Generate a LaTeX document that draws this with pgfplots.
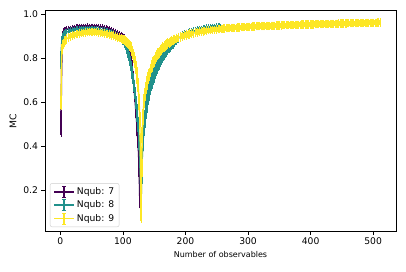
\documentclass[border=0pt]{standalone}
\usepackage{pgfplots}
\pgfplotsset{compat=1.18}
\usepackage{pgfplotstable}
\usepackage{fontspec}
\setmainfont{DejaVu Sans}
\definecolor{cP}{RGB}{68,1,84}
\definecolor{cT}{HTML}{21918C}
\definecolor{cY}{HTML}{FDE725}

\pgfplotstableread[row sep=\\]{
x y e\\
1 0.505 0.055\\ 2 0.730 0.040\\ 3 0.870 0.020\\ 4 0.905 0.012\\ 5 0.918 0.010\\
6 0.922 0.009\\ 7 0.925 0.008\\ 8 0.927 0.008\\ 9 0.929 0.007\\ 10 0.930 0.007\\
13 0.933 0.007\\ 16 0.935 0.006\\ 19 0.937 0.006\\ 22 0.939 0.006\\ 25 0.941 0.006\\
28 0.942 0.006\\ 31 0.943 0.006\\ 34 0.944 0.006\\ 37 0.945 0.005\\ 40 0.945 0.005\\
43 0.946 0.005\\ 46 0.945 0.005\\ 49 0.945 0.005\\ 52 0.945 0.005\\ 55 0.944 0.005\\
58 0.944 0.005\\ 61 0.943 0.005\\ 64 0.942 0.005\\ 67 0.941 0.005\\ 70 0.939 0.006\\
73 0.937 0.006\\ 76 0.935 0.006\\ 79 0.932 0.006\\ 82 0.928 0.006\\ 85 0.924 0.007\\
88 0.920 0.007\\ 91 0.915 0.007\\ 94 0.910 0.008\\ 97 0.905 0.008\\ 100 0.899 0.008\\
101 0.896 0.008\\ 102 0.893 0.009\\ 103 0.889 0.009\\ 104 0.884 0.009\\ 105 0.878 0.010\\
106 0.872 0.010\\ 107 0.865 0.010\\ 108 0.857 0.011\\ 109 0.848 0.011\\ 110 0.838 0.012\\
111 0.826 0.012\\ 112 0.812 0.013\\ 113 0.795 0.013\\ 114 0.775 0.014\\ 115 0.752 0.015\\
116 0.726 0.016\\ 117 0.695 0.017\\ 118 0.660 0.018\\ 119 0.625 0.019\\ 120 0.588 0.020\\
121 0.550 0.022\\ 122 0.512 0.024\\ 123 0.470 0.026\\ 124 0.425 0.028\\ 125 0.370 0.030\\
126 0.290 0.032\\ 127 0.155 0.030\\
}\tabP

\pgfplotstableread[row sep=\\]{
x y e\\
1 0.790 0.040\\ 2 0.865 0.020\\ 3 0.885 0.015\\ 4 0.896 0.012\\ 5 0.903 0.011\\
6 0.908 0.010\\ 7 0.911 0.010\\ 8 0.914 0.009\\ 9 0.916 0.009\\ 10 0.918 0.009\\
13 0.921 0.008\\ 16 0.924 0.008\\ 19 0.926 0.008\\ 22 0.928 0.008\\ 25 0.929 0.008\\
28 0.930 0.008\\ 31 0.931 0.008\\ 34 0.932 0.008\\ 37 0.932 0.008\\ 40 0.933 0.008\\
43 0.933 0.008\\ 46 0.933 0.008\\ 49 0.932 0.008\\ 52 0.932 0.008\\ 55 0.931 0.008\\
58 0.930 0.008\\ 61 0.929 0.008\\ 64 0.928 0.008\\ 67 0.926 0.008\\ 70 0.924 0.008\\
73 0.922 0.008\\ 76 0.920 0.009\\ 79 0.917 0.009\\ 82 0.914 0.009\\ 85 0.910 0.009\\
88 0.906 0.010\\ 91 0.901 0.010\\ 94 0.896 0.010\\ 97 0.889 0.011\\ 100 0.880 0.012\\
101 0.876 0.012\\ 102 0.871 0.013\\ 103 0.866 0.013\\ 104 0.860 0.014\\ 105 0.853 0.015\\
106 0.845 0.016\\ 107 0.836 0.016\\ 108 0.826 0.017\\ 109 0.815 0.018\\ 110 0.803 0.018\\
111 0.790 0.019\\ 112 0.776 0.020\\ 113 0.761 0.020\\ 114 0.745 0.021\\ 115 0.728 0.022\\
116 0.710 0.022\\ 117 0.690 0.023\\ 118 0.668 0.024\\ 119 0.645 0.024\\ 120 0.620 0.025\\
121 0.594 0.026\\ 122 0.566 0.027\\ 123 0.536 0.028\\ 124 0.502 0.029\\ 125 0.462 0.030\\
126 0.412 0.031\\ 127 0.340 0.032\\ 128 0.235 0.030\\ 129 0.130 0.028\\ 130 0.260 0.030\\
131 0.350 0.032\\ 132 0.410 0.033\\ 133 0.455 0.034\\ 134 0.490 0.035\\ 135 0.520 0.036\\
136 0.545 0.037\\ 137 0.567 0.037\\ 138 0.588 0.038\\ 139 0.607 0.038\\ 140 0.624 0.038\\
142 0.652 0.039\\ 144 0.676 0.039\\ 146 0.697 0.039\\ 148 0.716 0.039\\ 150 0.733 0.038\\
152 0.749 0.038\\ 154 0.763 0.037\\ 156 0.776 0.036\\ 158 0.788 0.035\\ 160 0.799 0.034\\
162 0.809 0.033\\ 164 0.818 0.032\\ 166 0.827 0.031\\ 168 0.835 0.030\\ 170 0.842 0.029\\
172 0.849 0.027\\ 174 0.855 0.026\\ 176 0.861 0.025\\ 178 0.867 0.024\\ 180 0.872 0.022\\
183 0.879 0.020\\ 186 0.885 0.018\\ 189 0.891 0.017\\ 192 0.896 0.016\\ 195 0.901 0.015\\
198 0.905 0.014\\ 201 0.909 0.013\\ 204 0.913 0.012\\ 207 0.916 0.012\\ 210 0.919 0.011\\
213 0.922 0.011\\ 216 0.925 0.010\\ 219 0.927 0.010\\ 222 0.929 0.010\\ 225 0.931 0.009\\
228 0.933 0.009\\ 231 0.935 0.009\\ 234 0.937 0.009\\ 237 0.938 0.008\\ 240 0.940 0.008\\
243 0.941 0.008\\ 246 0.942 0.008\\ 249 0.943 0.008\\ 252 0.944 0.008\\ 255 0.945 0.008\\
}\tabT

\pgfplotstableread[row sep=\\]{
x y e\\
1 0.600 0.030\\ 2 0.800 0.030\\ 3 0.845 0.020\\ 4 0.858 0.018\\ 5 0.866 0.016\\
6 0.872 0.015\\ 7 0.877 0.015\\ 8 0.881 0.014\\ 9 0.884 0.014\\ 10 0.887 0.014\\
13 0.893 0.013\\ 16 0.898 0.013\\ 19 0.902 0.013\\ 22 0.905 0.013\\ 25 0.908 0.012\\
28 0.910 0.012\\ 31 0.912 0.012\\ 34 0.914 0.012\\ 37 0.915 0.012\\ 40 0.916 0.012\\
43 0.917 0.012\\ 46 0.918 0.012\\ 49 0.918 0.012\\ 52 0.918 0.012\\ 55 0.918 0.012\\
58 0.917 0.012\\ 61 0.916 0.012\\ 64 0.915 0.012\\ 67 0.914 0.012\\ 70 0.912 0.012\\
73 0.910 0.012\\ 76 0.908 0.012\\ 79 0.906 0.013\\ 82 0.904 0.013\\ 85 0.901 0.013\\
88 0.898 0.013\\ 91 0.895 0.013\\ 94 0.892 0.014\\ 97 0.889 0.014\\ 100 0.886 0.014\\
101 0.884 0.014\\ 102 0.882 0.015\\ 103 0.880 0.015\\ 104 0.878 0.015\\ 105 0.876 0.015\\
106 0.873 0.016\\ 107 0.870 0.016\\ 108 0.867 0.016\\ 109 0.864 0.017\\ 110 0.860 0.017\\
111 0.856 0.018\\ 112 0.851 0.018\\ 113 0.845 0.019\\ 114 0.838 0.019\\ 115 0.830 0.020\\
116 0.821 0.020\\ 117 0.811 0.021\\ 118 0.799 0.022\\ 119 0.786 0.023\\ 120 0.771 0.024\\
121 0.754 0.025\\ 122 0.734 0.026\\ 123 0.710 0.027\\ 124 0.681 0.028\\ 125 0.645 0.030\\
126 0.597 0.032\\ 127 0.520 0.035\\ 128 0.370 0.040\\ 129 0.100 0.040\\ 130 0.300 0.040\\
131 0.450 0.035\\ 132 0.530 0.032\\ 133 0.575 0.030\\ 134 0.607 0.028\\ 135 0.632 0.027\\
136 0.652 0.026\\ 137 0.668 0.025\\ 138 0.682 0.025\\ 139 0.695 0.024\\ 140 0.707 0.024\\
142 0.727 0.023\\ 144 0.745 0.023\\ 146 0.761 0.022\\ 148 0.775 0.022\\ 150 0.788 0.021\\
152 0.799 0.021\\ 154 0.809 0.020\\ 156 0.818 0.020\\ 158 0.826 0.019\\ 160 0.833 0.019\\
162 0.840 0.018\\ 164 0.846 0.018\\ 166 0.852 0.018\\ 168 0.857 0.017\\ 170 0.862 0.017\\
172 0.866 0.017\\ 174 0.870 0.016\\ 176 0.874 0.016\\ 178 0.877 0.016\\ 180 0.880 0.016\\
183 0.885 0.015\\ 186 0.889 0.015\\ 189 0.893 0.015\\ 192 0.896 0.015\\ 195 0.899 0.014\\
198 0.902 0.014\\ 201 0.905 0.014\\ 204 0.907 0.014\\ 207 0.909 0.014\\ 210 0.911 0.013\\
213 0.913 0.013\\ 216 0.915 0.013\\ 219 0.917 0.013\\ 222 0.919 0.013\\ 225 0.920 0.013\\
228 0.922 0.013\\ 231 0.923 0.013\\ 234 0.925 0.013\\ 237 0.926 0.012\\ 240 0.927 0.012\\
243 0.928 0.012\\ 246 0.929 0.012\\ 249 0.930 0.012\\ 252 0.931 0.012\\ 255 0.932 0.012\\
257 0.933 0.012\\ 259 0.933 0.012\\ 261 0.934 0.012\\ 263 0.934 0.012\\ 265 0.935 0.012\\
267 0.935 0.012\\ 269 0.936 0.012\\ 271 0.936 0.012\\ 273 0.937 0.012\\ 275 0.937 0.012\\
277 0.938 0.012\\ 279 0.938 0.012\\ 281 0.938 0.012\\ 283 0.939 0.012\\ 285 0.939 0.012\\
287 0.939 0.012\\ 289 0.940 0.012\\ 291 0.940 0.012\\ 293 0.940 0.012\\ 295 0.941 0.012\\
297 0.941 0.012\\ 299 0.941 0.012\\ 301 0.942 0.012\\ 303 0.942 0.012\\ 305 0.942 0.012\\
307 0.943 0.012\\ 309 0.943 0.012\\ 311 0.943 0.012\\ 313 0.944 0.012\\ 315 0.944 0.012\\
317 0.944 0.012\\ 319 0.944 0.012\\ 321 0.945 0.012\\ 323 0.945 0.012\\ 325 0.945 0.012\\
327 0.945 0.012\\ 329 0.946 0.012\\ 331 0.946 0.012\\ 333 0.946 0.012\\ 335 0.946 0.012\\
337 0.947 0.012\\ 339 0.947 0.012\\ 341 0.947 0.012\\ 343 0.947 0.012\\ 345 0.948 0.012\\
347 0.948 0.012\\ 349 0.948 0.012\\ 351 0.948 0.012\\ 353 0.948 0.012\\ 355 0.949 0.012\\
357 0.949 0.012\\ 359 0.949 0.012\\ 361 0.949 0.012\\ 363 0.949 0.012\\ 365 0.950 0.012\\
367 0.950 0.012\\ 369 0.950 0.012\\ 371 0.950 0.012\\ 373 0.950 0.012\\ 375 0.951 0.012\\
377 0.951 0.012\\ 379 0.951 0.012\\ 381 0.951 0.012\\ 383 0.951 0.012\\ 385 0.952 0.012\\
387 0.952 0.012\\ 389 0.952 0.012\\ 391 0.952 0.012\\ 393 0.952 0.012\\ 395 0.953 0.012\\
397 0.953 0.012\\ 399 0.953 0.012\\ 401 0.953 0.012\\ 403 0.953 0.012\\ 405 0.953 0.012\\
407 0.954 0.012\\ 409 0.954 0.012\\ 411 0.954 0.012\\ 413 0.954 0.012\\ 415 0.954 0.012\\
417 0.954 0.012\\ 419 0.955 0.012\\ 421 0.955 0.012\\ 423 0.955 0.012\\ 425 0.955 0.012\\
427 0.955 0.012\\ 429 0.955 0.012\\ 431 0.956 0.012\\ 433 0.956 0.012\\ 435 0.956 0.012\\
437 0.956 0.012\\ 439 0.956 0.012\\ 441 0.956 0.012\\ 443 0.956 0.012\\ 445 0.957 0.012\\
447 0.957 0.012\\ 449 0.957 0.012\\ 451 0.957 0.012\\ 453 0.957 0.012\\ 455 0.957 0.012\\
457 0.957 0.012\\ 459 0.958 0.012\\ 461 0.958 0.012\\ 463 0.958 0.012\\ 465 0.958 0.012\\
467 0.958 0.012\\ 469 0.958 0.012\\ 471 0.958 0.012\\ 473 0.958 0.012\\ 475 0.959 0.012\\
477 0.959 0.012\\ 479 0.959 0.012\\ 481 0.959 0.012\\ 483 0.959 0.012\\ 485 0.959 0.012\\
487 0.959 0.012\\ 489 0.959 0.012\\ 491 0.960 0.012\\ 493 0.960 0.012\\ 495 0.960 0.012\\
497 0.960 0.012\\ 499 0.960 0.012\\ 501 0.960 0.012\\ 503 0.960 0.012\\ 505 0.960 0.012\\
507 0.961 0.012\\ 509 0.961 0.012\\ 511 0.961 0.012\\
}\tabY

\newcommand\eblegdraw[1]{%
  \path[draw=#1, line width=1.8pt] (0pt,0pt) -- (20pt,0pt);
  \path[draw=#1, line width=1.2pt] (10pt,-5.5pt) -- (10pt,5.5pt);
  \path[draw=#1, line width=1.1pt] (8.4pt,-5.5pt) -- (11.6pt,-5.5pt);
  \path[draw=#1, line width=1.1pt] (8.4pt,5.5pt) -- (11.6pt,5.5pt);
}

\begin{document}
\begin{tikzpicture}
\useasboundingbox (-45pt,-40pt) rectangle (361pt,231pt);
\begin{axis}[
  at={(0pt,0pt)}, anchor=south west,
  scale only axis, width=351pt, height=220.3pt,
  xmin=-24.5, xmax=536.5, ymin=0.015, ymax=1.015,
  xtick={0,100,200,300,400,500}, ytick={0.2,0.4,0.6,0.8,1.0},
  yticklabel style={/pgf/number format/.cd, fixed, fixed zerofill, precision=1},
  /pgf/number format/assume math mode=true,
  tick align=outside, major tick length=3.5pt,
  xtick pos=bottom, ytick pos=left,
  tick style={black, line width=0.6pt},
  axis line style={line width=0.6pt},
  ticklabel style={font=\fontsize{9.2}{10}\selectfont},
  xlabel={Number of observables}, ylabel={MC},
  xlabel style={font=\fontsize{8}{9}\selectfont},
  ylabel style={font=\fontsize{9.2}{10}\selectfont},
  legend style={at={(0.014,0.018)}, anchor=south west, draw=black!20,
    rounded corners=2pt, fill=white, font=\fontsize{9.2}{10}\selectfont, row sep=1pt},
  legend cell align=left,
  error bars/y dir=both, error bars/y explicit,
  error bars/error bar style={line width=1.8pt},
  error bars/error mark options={line width=0.9pt, mark size=1.5pt},
]
\addplot[draw=cP, color=cP, line width=1.4pt, mark=none, forget plot]
  table[x=x, y=y, y error=e]{\tabP};
\addplot[draw=cT, color=cT, line width=1.4pt, mark=none, forget plot]
  table[x=x, y=y, y error=e]{\tabT};
\addplot[draw=cY, color=cY, line width=1.4pt, mark=none, forget plot]
  table[x=x, y=y, y error=e]{\tabY};
\addlegendimage{legend image code/.code={\eblegdraw{cP}}}
\addlegendentry{Nqub: 7}
\addlegendimage{legend image code/.code={\eblegdraw{cT}}}
\addlegendentry{Nqub: 8}
\addlegendimage{legend image code/.code={\eblegdraw{cY}}}
\addlegendentry{Nqub: 9}
\end{axis}
\end{tikzpicture}
\end{document}
